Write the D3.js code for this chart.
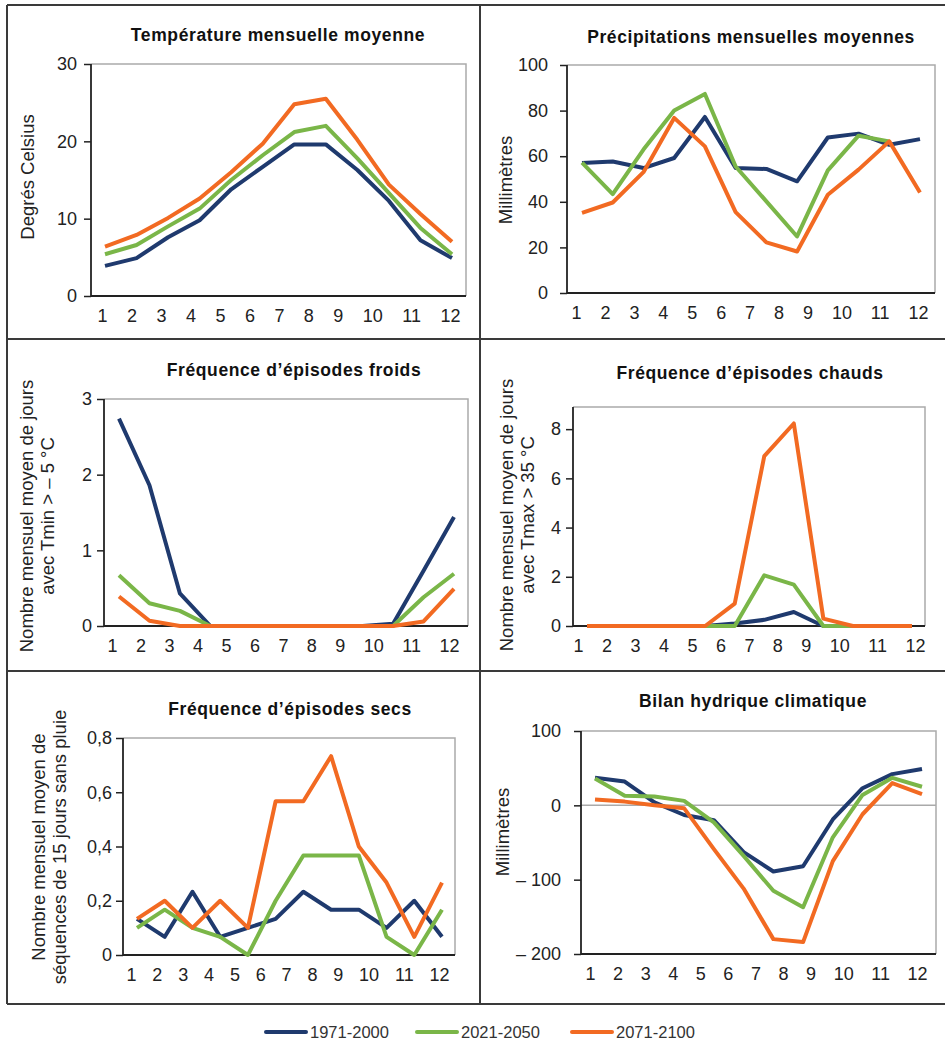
<!DOCTYPE html>
<html lang="fr">
<head>
<meta charset="UTF-8">
<title>Indicateurs climatiques</title>
<style>
  body { margin: 0; background: #fff; }
  svg { display: block; font-family: "Liberation Sans", Arial, sans-serif; }
  .title { font-weight: bold; font-size: 17.5px; letter-spacing: 0.6px; fill: #111; }
  .ylab { font-size: 18.5px; fill: #222; }
  .tick text { font-size: 18px; fill: #222; }
  .serie { fill: none; stroke-width: 4px; stroke-linejoin: round; stroke-linecap: butt; }
  .legend text { font-size: 16.5px; fill: #333; }
</style>
<script src="https://cdn.jsdelivr.net/npm/d3@7"></script>
</head>
<body>
<svg id="chart" width="945" height="1043"></svg>
<script>
// ---- data ----
var months = [1, 2, 3, 4, 5, 6, 7, 8, 9, 10, 11, 12];
var periods = ['1971-2000', '2021-2050', '2071-2100'];
var colors = ['#1f3a6e', '#7ab648', '#f26a22'];

var tempRef = [3.9, 4.9, 7.6, 9.8, 13.8, 16.7, 19.6, 19.6, 16.3, 12.3, 7.2, 4.9];
var tempMid = [5.4, 6.6, 9.0, 11.3, 15.0, 18.2, 21.2, 22.0, 17.8, 13.3, 8.8, 5.4];
var tempEnd = [6.4, 7.9, 10.1, 12.6, 16.0, 19.7, 24.8, 25.5, 20.2, 14.4, 10.6, 7.0];

var precipRef = [57.0, 57.7, 54.8, 59.2, 77.2, 54.8, 54.4, 49.0, 68.2, 69.9, 65.0, 67.5];
var precipMid = [57.2, 43.4, 62.9, 80.0, 87.3, 55.5, 40.2, 24.8, 53.8, 69.0, 66.5, null];
var precipEnd = [35.1, 39.7, 53.0, 76.8, 64.3, 35.5, 22.2, 18.2, 43.1, 54.1, 66.5, 44.1];

var coldRef = [2.74, 1.86, 0.43, 0, 0, 0, 0, 0, 0, 0.03, 0.73, 1.44];
var coldMid = [0.67, 0.30, 0.20, 0, 0, 0, 0, 0, 0, 0, 0.38, 0.69];
var coldEnd = [0.39, 0.07, 0, 0, 0, 0, 0, 0, 0, 0, 0.06, 0.49];

var hotRef = [0, 0, 0, 0, 0, 0.1, 0.25, 0.57, 0, 0, 0, 0];
var hotMid = [0, 0, 0, 0, 0, 0, 2.06, 1.68, 0, 0, 0, 0];
var hotEnd = [0, 0, 0, 0, 0, 0.91, 6.9, 8.23, 0.3, 0, 0, 0];

var dryRef = [0.133, 0.067, 0.233, 0.067, 0.1, 0.133, 0.233, 0.167, 0.167, 0.1, 0.2, 0.067];
var dryMid = [0.1, 0.167, 0.1, 0.067, 0, 0.2, 0.367, 0.367, 0.367, 0.067, 0, 0.167];
var dryEnd = [0.133, 0.2, 0.1, 0.2, 0.1, 0.567, 0.567, 0.733, 0.4, 0.267, 0.067, 0.267];

var waterRef = [37, 32, 4, -13, -20, -63, -89, -82, -19, 23, 42, 49];
var waterMid = [36, 13, 12, 6, -23, -68, -115, -137, -43, 14, 37, 25];
var waterEnd = [8, 5, 0, -4, -59, -112, -180, -184, -75, -12, 30, 15];

var tempTicks = [0, 10, 20, 30];
var precipTicks = [0, 20, 40, 60, 80, 100];
var coldTicks = [0, 1, 2, 3];
var hotTicks = [0, 2, 4, 6, 8];
var dryTicks = [0, 0.2, 0.4, 0.6, 0.8];
var waterTicks = [-200, -100, 0, 100];

// ---- layout ----
var frFmt = function(d) { return d === 0 ? '0' : d3.format('.1f')(d).replace('.', ','); };
var minusFmt = function(d) { return d < 0 ? '\u2013 ' + Math.abs(d) : String(d); };

var panels = [
  { title: 'Température mensuelle moyenne', tx: 278, ty: 41, ylab: ['Degrés Celsius'], lx: [28], ly: 177,
    left: 91, right: 466, top: 64, bottom: 296, p0: 105, p1: 452, l0: 97, l1: 460,
    domain: [0, 30], ticks: tempTicks, pad: 7, series: [tempRef, tempMid, tempEnd] },
  { title: 'Précipitations mensuelles moyennes', tx: 751, ty: 43, ylab: ['Millimètres'], lx: [506], ly: 180,
    left: 567, right: 935, top: 65, bottom: 293, p0: 582, p1: 920, l0: 571, l1: 928,
    domain: [0, 100], ticks: precipTicks, pad: 12, series: [precipRef, precipMid, precipEnd] },
  { title: 'Fréquence d\u2019épisodes froids', tx: 294, ty: 376,
    ylab: ['Nombre mensuel moyen de jours', 'avec Tmin > \u2013 5 °C'], lx: [27, 48], ly: 516,
    left: 104, right: 468, top: 399, bottom: 626, p0: 119, p1: 454, l0: 107, l1: 459,
    domain: [0, 3], ticks: coldTicks, pad: 5, series: [coldRef, coldMid, coldEnd] },
  { title: 'Fréquence d\u2019épisodes chauds', tx: 750, ty: 379,
    ylab: ['Nombre mensuel moyen de jours', 'avec Tmax > 35 °C'], lx: [507, 528], ly: 515,
    left: 573, right: 925, top: 407, bottom: 626, p0: 587, p1: 912, l0: 573, l1: 925,
    domain: [0, 8.9], ticks: hotTicks, pad: 5, series: [hotRef, hotMid, hotEnd] },
  { title: 'Fréquence d\u2019épisodes secs', tx: 290, ty: 715,
    ylab: ['Nombre mensuel moyen de', 'séquences de 15 jours sans pluie'], lx: [39, 60], ly: 847,
    left: 123, right: 455, top: 738, bottom: 955, p0: 137, p1: 442, l0: 126, l1: 449,
    domain: [0, 0.8], ticks: dryTicks, fmt: frFmt, pad: 4, series: [dryRef, dryMid, dryEnd] },
  { title: 'Bilan hydrique climatique', tx: 753, ty: 707, ylab: ['Millimètres'], lx: [503], ly: 832,
    left: 581, right: 936, top: 731, bottom: 954, p0: 595, p1: 922, l0: 585, l1: 927,
    domain: [-200, 100], ticks: waterTicks, fmt: minusFmt, pad: 13, zero: true,
    series: [waterRef, waterMid, waterEnd] }
];

var svg = d3.select('#chart');
svg.append('rect').attr('width', 945).attr('height', 1043).attr('fill', '#fff');

// outer grid of panels
var border = svg.append('g').attr('stroke', '#3a3a3a').attr('stroke-width', 2);
[5, 339, 671, 1004].forEach(function(y) {
  border.append('line').attr('x1', 7).attr('x2', 945).attr('y1', y).attr('y2', y);
});
[7, 480].forEach(function(x) {
  border.append('line').attr('x1', x).attr('x2', x).attr('y1', 5).attr('y2', 1004);
});

// spread the month labels like a line of text
function flowLabels(g, x, l0, l1) {
  var texts = g.selectAll('.tick text');
  var widths = texts.nodes().map(function(n) { return n.getComputedTextLength(); });
  var gap = (l1 - l0 - d3.sum(widths)) / (widths.length - 1);
  var cur = l0;
  texts.each(function(d, i) {
    d3.select(this).attr('x', cur + widths[i] / 2 - x(d));
    cur += widths[i] + gap;
  });
}

panels.forEach(function(p) {
  var g = svg.append('g');
  var x = d3.scalePoint().domain(months).range([p.p0, p.p1]);
  var y = d3.scaleLinear().domain(p.domain).range([p.bottom, p.top]);

  // light frame (top + right)
  g.append('path')
    .attr('d', 'M' + p.left + ',' + p.top + 'H' + p.right + 'V' + p.bottom)
    .attr('fill', 'none').attr('stroke', '#aaa').attr('stroke-width', 1.5);

  if (p.zero) {
    g.append('line')
      .attr('x1', p.left).attr('x2', p.right)
      .attr('y1', y(0)).attr('y2', y(0))
      .attr('stroke', '#aaa').attr('stroke-width', 1.5);
  }

  // y axis
  var ya = g.append('g')
    .attr('transform', 'translate(' + p.left + ',0)')
    .call(d3.axisLeft(y).tickValues(p.ticks).tickSize(7).tickSizeOuter(0)
      .tickPadding(p.pad).tickFormat(p.fmt || String));
  ya.select('.domain').attr('stroke', '#222').attr('stroke-width', 1.8)
    .attr('d', 'M0,' + p.top + 'V' + p.bottom);
  ya.selectAll('.tick line').attr('stroke', '#222').attr('stroke-width', 1.5);

  // x axis
  var xa = g.append('g')
    .attr('transform', 'translate(0,' + p.bottom + ')')
    .call(d3.axisBottom(x).tickSize(0).tickSizeOuter(0).tickPadding(13));
  xa.select('.domain').attr('stroke', '#222').attr('stroke-width', 1.8)
    .attr('d', 'M' + p.left + ',0H' + p.right);
  flowLabels(xa, x, p.l0, p.l1);

  // series
  var line = d3.line()
    .defined(function(d) { return d != null; })
    .x(function(d, i) { return x(months[i]); })
    .y(function(d) { return y(d); });
  p.series.forEach(function(s, k) {
    g.append('path').datum(s)
      .attr('class', 'serie')
      .attr('stroke', colors[k])
      .attr('d', line);
  });

  // titles
  g.append('text').attr('class', 'title')
    .attr('x', p.tx).attr('y', p.ty).attr('text-anchor', 'middle')
    .text(p.title);
  p.ylab.forEach(function(t, i) {
    g.append('text').attr('class', 'ylab')
      .attr('transform', 'translate(' + p.lx[i] + ',' + p.ly + ') rotate(-90)')
      .attr('text-anchor', 'middle').attr('dy', '0.35em')
      .text(t);
  });
});

// legend
var legendX = [266, 417, 572];
var legend = svg.append('g').attr('class', 'legend');
periods.forEach(function(name, i) {
  legend.append('line')
    .attr('x1', legendX[i]).attr('x2', legendX[i] + 40)
    .attr('y1', 1032).attr('y2', 1032)
    .attr('stroke', colors[i]).attr('stroke-width', 4).attr('stroke-linecap', 'round');
  legend.append('text')
    .attr('x', legendX[i] + 44).attr('y', 1038)
    .text(name);
});
</script>
</body>
</html>
